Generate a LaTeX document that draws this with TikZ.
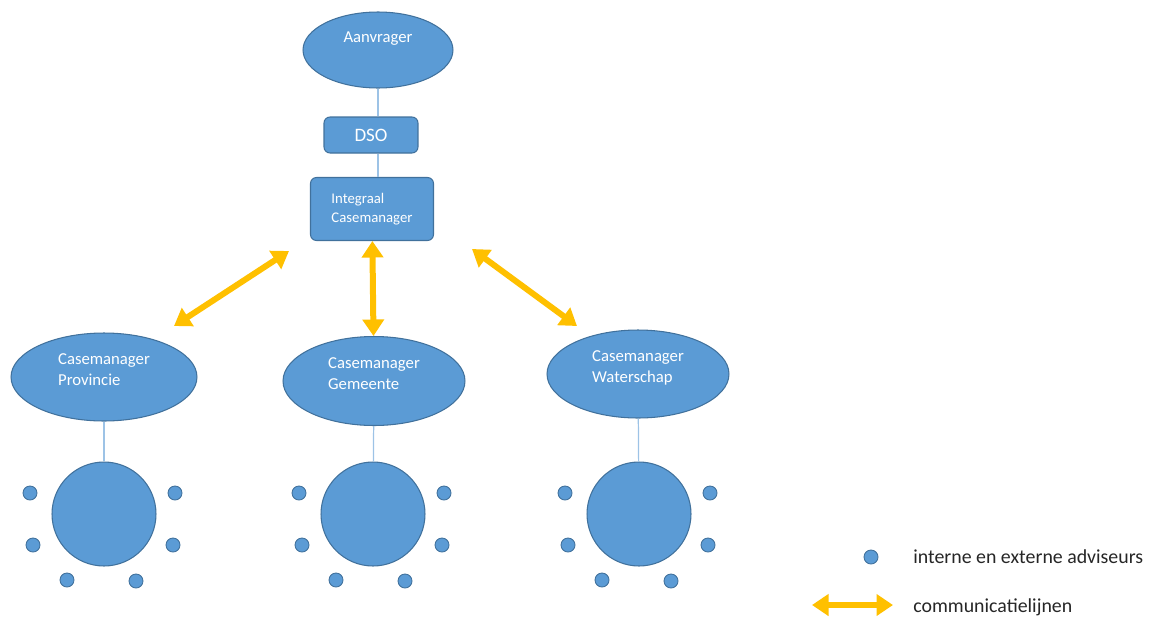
\documentclass[tikz,border=0pt]{standalone}
\usepackage{fontspec}
\setmainfont{Carlito}
\usepackage{tikz}
\usetikzlibrary{arrows.meta}
\usetikzlibrary{shapes.geometric}
\usetikzlibrary{positioning}
\definecolor{vulblauw}{HTML}{5B9BD5}
\definecolor{randblauw}{HTML}{41719C}
\definecolor{lijnblauw}{HTML}{9DC3E6}
\definecolor{oranjegeel}{HTML}{FFC000}
\definecolor{tekstgrijs}{HTML}{262626}

\begin{document}
\begin{tikzpicture}[x=0.02cm,y=-0.02cm]
\tikzset{>={Triangle[width=4.2mm,length=3.3mm]}}
\tikzstyle{rol} =[ellipse, fill = vulblauw, draw = randblauw, line width=0.6pt, inner sep=0pt, text=white, align=left, font=\fontsize{9.5}{11.5}\selectfont]
\tikzstyle{blok} =[rectangle, rounded corners=1.2mm, fill = vulblauw, draw = randblauw, line width=0.6pt, inner sep=0pt, text=white, align=left]
\tikzstyle{tafel} =[circle, fill = vulblauw, draw = randblauw, line width=0.6pt, inner sep=0pt, minimum size=2.08cm]
\tikzstyle{adviseur} =[circle, fill = vulblauw, draw = randblauw, line width=0.5pt, inner sep=0pt, minimum size=2.8mm]
\tikzstyle{lijn} =[draw = lijnblauw, line width=0.7pt]
\tikzstyle{communicatie} =[<->, draw = oranjegeel, line width=1.2mm]
\tikzstyle{legenda} =[anchor=west, inner sep=0pt, text=tekstgrijs, font=\fontsize{11.3}{13}\selectfont]

\useasboundingbox (0,0) rectangle (1149,616);

% bovenste deel
\node[rol, minimum width=3cm, minimum height=1.52cm](aanv) at (378,50){Aanvrager\\[3pt]};
\node[blok, minimum width=1.88cm, minimum height=0.72cm, font=\fontsize{10.8}{12}\selectfont](dso) at (371,135){DSO};
\node[blok, minimum width=2.46cm, minimum height=1.26cm, font=\fontsize{8.4}{10.5}\selectfont](icm) at (372,209){Integraal\\Casemanager};
\draw [lijn] (aanv.south) to (aanv.south |- dso.north);
\draw [lijn] (aanv.south |- dso.south) to (aanv.south |- icm.north);

% casemanagers
\node[rol, minimum width=3.72cm, minimum height=1.76cm](cmp) at (104,377){Casemanager\\Provincie\\[-3pt]};
\node[rol, minimum width=3.64cm, minimum height=1.78cm](cmg) at (374,381){Casemanager\\Gemeente\\[-3pt]};
\node[rol, minimum width=3.64cm, minimum height=1.76cm](cmw) at (638,374){Casemanager\\Waterschap\\[-3pt]};

% communicatielijnen
\coordinate (pl1) at (289,251);
\coordinate (pl2) at (174,326);
\coordinate (pr1) at (472,249);
\coordinate (pr2) at (577,326);
\draw [communicatie] (pl1) to (pl2);
\draw [communicatie] (icm) to (cmg);
\draw [communicatie] (pr1) to (pr2);

% tafels met adviseurs
\foreach \naam/\cm/\x in {tp/cmp/104, tg/cmg/373, tw/cmw/639}{
  \node[tafel](\naam) at (\x,514){};
  \draw [lijn] (\cm) to (\naam);
  \node[adviseur](\naam1) at (\x-74,493){};
  \node[adviseur](\naam2) at (\x-71,545){};
  \node[adviseur](\naam3) at (\x-37,580){};
  \node[adviseur](\naam4) at (\x+32,581){};
  \node[adviseur](\naam5) at (\x+71,493){};
  \node[adviseur](\naam6) at (\x+69,545){};
}

% legenda
\node[adviseur](lgd) at (871,557){};
\node[legenda, right=0.84cm of lgd.center](lgdtxt){interne en externe adviseurs};
\coordinate (la1) at (812,605);
\coordinate (la2) at (893,605);
\draw [communicatie] (la1) to (la2);
\node[legenda](latxt) at (913,607){communicatielijnen};
\end{tikzpicture}
\end{document}
